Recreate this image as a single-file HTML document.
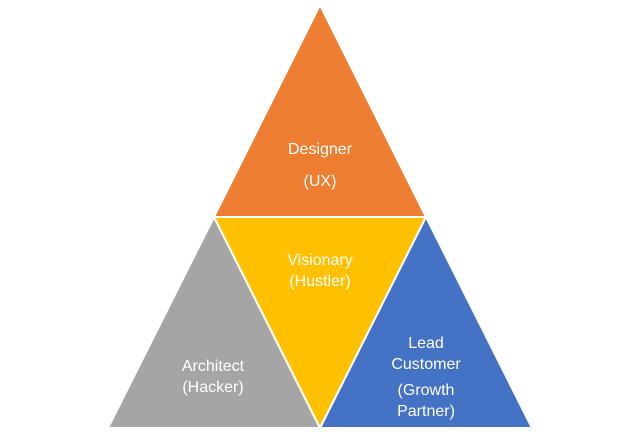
<!DOCTYPE html>
<html><head><style>
html,body{margin:0;padding:0;background:#fff;}
svg{display:block}
text{font-family:"Liberation Sans",sans-serif;font-size:16px;fill:#fff;text-anchor:middle}
</style></head><body>
<svg width="640" height="432" viewBox="0 0 640 432">
<polygon points="320,5 426,217 214,217" fill="#ed7d31" stroke="#fff" stroke-width="2"/>
<polygon points="214,217 108,428 320,428" fill="#a5a5a5" stroke="#fff" stroke-width="2"/>
<polygon points="214,217 426,217 320,428" fill="#ffc000" stroke="#fff" stroke-width="2"/>
<polygon points="426,217 532,428 320,428" fill="#4472c4" stroke="#fff" stroke-width="2"/>
<text x="320" y="154">Designer</text>
<text x="320" y="186">(UX)</text>
<text x="320" y="265">Visionary</text>
<text x="320" y="286">(Hustler)</text>
<text x="213" y="371">Architect</text>
<text x="213" y="392">(Hacker)</text>
<text x="426" y="348">Lead</text>
<text x="426" y="369">Customer</text>
<text x="426" y="395">(Growth</text>
<text x="426" y="416">Partner)</text>
</svg>
</body></html>
